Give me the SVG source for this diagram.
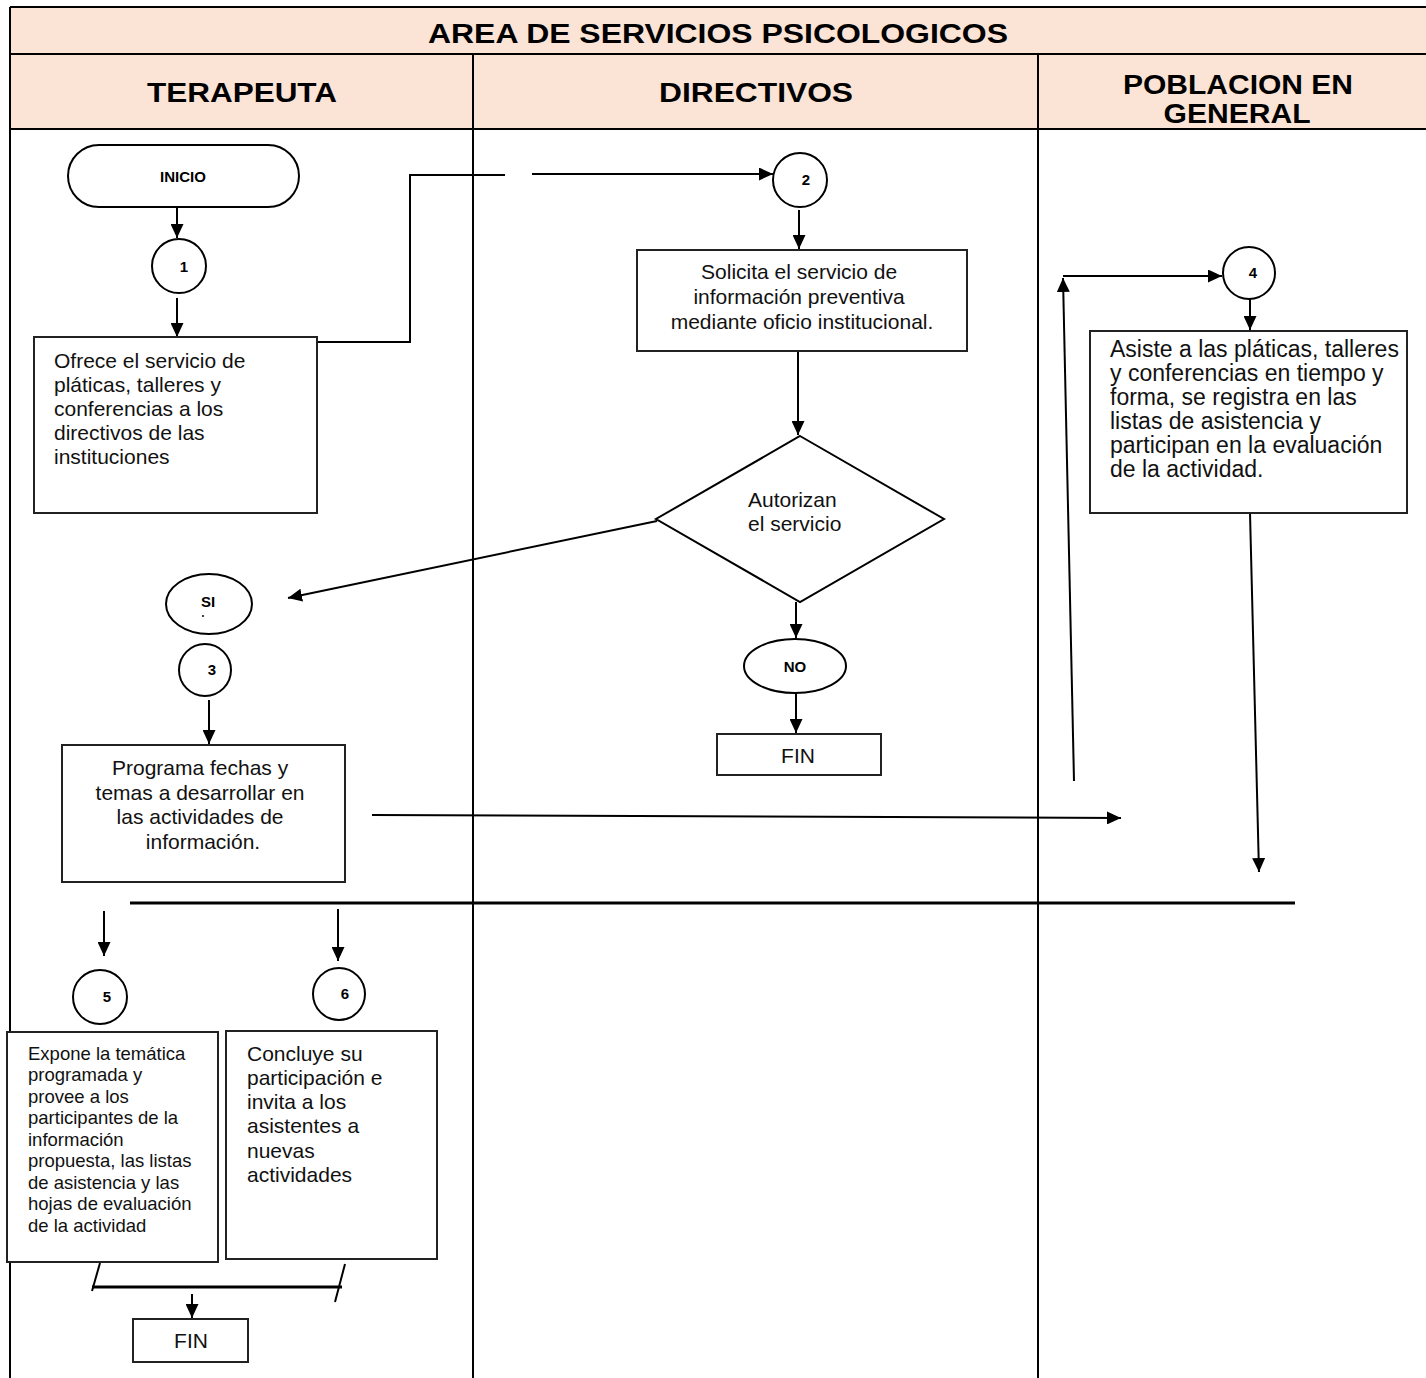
<svg xmlns="http://www.w3.org/2000/svg" width="1426" height="1378" viewBox="0 0 1426 1378">
  <defs>
    <marker id="arrow" markerUnits="userSpaceOnUse" markerWidth="14" markerHeight="13" refX="14" refY="6.5" orient="auto">
      <path d="M0,0 L14,6.5 L0,13 z" fill="#000"/>
    </marker>
  </defs>
  <style>
    .grid { stroke: #000; stroke-width: 2; fill: none; }
    .head { fill: #fbe4d5; }
    .htext { font-family: "Liberation Sans", Arial, sans-serif; font-weight: bold; font-size: 27px; fill: #000; text-anchor: middle; }
    .box { fill: #fff; stroke: #222; stroke-width: 2; }
    .term { fill: #fff; stroke: #000; stroke-width: 2; }
    .txt { font-family: "Liberation Sans", Arial, sans-serif; font-size: 21px; fill: #111; }
    .small { font-size: 18.5px; }
    .large { font-size: 23px; }
    .mid { text-anchor: middle; }
    .num { font-family: "Liberation Sans", Arial, sans-serif; font-weight: bold; font-size: 15px; fill: #000; text-anchor: middle; }
    .conn { stroke: #000; stroke-width: 2; fill: none; }
    .arr { marker-end: url(#arrow); }
    .bar { stroke: #000; stroke-width: 3; fill: none; }
  </style>

  <!-- swimlane table -->
  <g id="lanes">
    <rect class="head" x="10" y="7" width="1416" height="122"/>
    <line class="grid" x1="10" y1="7" x2="1426" y2="7"/>
    <line class="grid" x1="10" y1="54" x2="1426" y2="54"/>
    <line class="grid" x1="10" y1="129" x2="1426" y2="129"/>
    <line class="grid" x1="10" y1="7" x2="10" y2="1378"/>
    <line class="grid" x1="473" y1="54" x2="473" y2="1378"/>
    <line class="grid" x1="1038" y1="54" x2="1038" y2="1378"/>
    <text class="htext" x="718" y="43" textLength="580" lengthAdjust="spacingAndGlyphs">AREA DE SERVICIOS PSICOLOGICOS</text>
    <text class="htext" x="242" y="102" textLength="190" lengthAdjust="spacingAndGlyphs">TERAPEUTA</text>
    <text class="htext" x="756" y="102" textLength="194" lengthAdjust="spacingAndGlyphs">DIRECTIVOS</text>
    <text class="htext" x="1238" y="94" textLength="230" lengthAdjust="spacingAndGlyphs">POBLACION EN</text>
    <text class="htext" x="1237" y="123" textLength="147" lengthAdjust="spacingAndGlyphs">GENERAL</text>
  </g>

  <!-- connectors -->
  <g id="connectors">
    <line class="conn arr" x1="177" y1="207" x2="177" y2="238"/>
    <line class="conn arr" x1="177" y1="298" x2="177" y2="337"/>
    <polyline class="conn" points="317,342 410,342 410,175 505,175"/>
    <line class="conn arr" x1="532" y1="174" x2="773" y2="174"/>
    <line class="conn arr" x1="799" y1="210" x2="799" y2="249"/>
    <line class="conn arr" x1="798" y1="352" x2="798" y2="435"/>
    <line class="conn arr" x1="657" y1="521" x2="288" y2="598"/>
    <line class="conn arr" x1="796" y1="602" x2="796" y2="638"/>
    <line class="conn arr" x1="796" y1="693" x2="796" y2="733"/>
    <line class="conn arr" x1="209" y1="700" x2="209" y2="744"/>
    <line class="conn arr" x1="372" y1="815" x2="1121" y2="818"/>
    <line class="conn arr" x1="1074" y1="781" x2="1063" y2="278"/>
    <line class="conn arr" x1="1063" y1="276" x2="1222" y2="276"/>
    <line class="conn arr" x1="1250" y1="299" x2="1250" y2="330"/>
    <line class="conn arr" x1="1250" y1="513" x2="1259" y2="872"/>
    <line class="bar" x1="130" y1="903" x2="1295" y2="903"/>
    <line class="conn arr" x1="104" y1="911" x2="104" y2="956"/>
    <line class="conn arr" x1="338" y1="909" x2="338" y2="961"/>
    <line class="bar" x1="92" y1="1287" x2="342" y2="1287"/>
    <line class="conn" x1="100" y1="1263" x2="92" y2="1291"/>
    <line class="conn" x1="345" y1="1264" x2="335" y2="1302"/>
    <line class="conn arr" x1="192" y1="1294" x2="192" y2="1318"/>
  </g>

  <!-- terapeuta lane -->
  <g id="inicio">
    <rect class="term" x="68" y="145" width="231" height="62" rx="31" ry="31"/>
    <text class="num" x="183" y="182">INICIO</text>
  </g>
  <g id="c1">
    <circle class="term" cx="179" cy="266" r="27"/>
    <text class="num" x="184" y="272">1</text>
  </g>
  <g id="ofrece">
    <rect class="box" x="34" y="337" width="283" height="176"/>
    <text class="txt">
      <tspan x="54" y="368">Ofrece el servicio de</tspan>
      <tspan x="54" y="392">pláticas, talleres y</tspan>
      <tspan x="54" y="416">conferencias a los</tspan>
      <tspan x="54" y="440">directivos de las</tspan>
      <tspan x="54" y="464">instituciones</tspan>
    </text>
  </g>
  <g id="si">
    <ellipse class="term" cx="209" cy="604" rx="43" ry="30"/>
    <text class="num" x="208" y="607" font-size="13">SI</text>
    <circle cx="203" cy="616" r="1" fill="#000"/>
  </g>
  <g id="c3">
    <circle class="term" cx="205" cy="670" r="26"/>
    <text class="num" x="212" y="675">3</text>
  </g>
  <g id="programa">
    <rect class="box" x="62" y="745" width="283" height="137"/>
    <text class="txt mid">
      <tspan x="203" y="775">Programa fechas y</tspan>
      <tspan x="203" y="800">temas a desarrollar en</tspan>
      <tspan x="203" y="824">las actividades de</tspan>
      <tspan x="203" y="849">información.</tspan>
    </text>
  </g>
  <g id="c5">
    <circle class="term" cx="100" cy="997" r="27"/>
    <text class="num" x="107" y="1002">5</text>
  </g>
  <g id="c6">
    <circle class="term" cx="339" cy="994" r="26"/>
    <text class="num" x="345" y="999">6</text>
  </g>
  <g id="expone">
    <rect class="box" x="7" y="1032" width="211" height="230"/>
    <text class="txt small">
      <tspan x="28" y="1060">Expone la temática</tspan>
      <tspan x="28" y="1081">programada y</tspan>
      <tspan x="28" y="1103">provee a los</tspan>
      <tspan x="28" y="1124">participantes de la</tspan>
      <tspan x="28" y="1146">información</tspan>
      <tspan x="28" y="1167">propuesta, las listas</tspan>
      <tspan x="28" y="1189">de asistencia y las</tspan>
      <tspan x="28" y="1210">hojas de evaluación</tspan>
      <tspan x="28" y="1232">de la actividad</tspan>
    </text>
  </g>
  <g id="concluye">
    <rect class="box" x="226" y="1031" width="211" height="228"/>
    <text class="txt">
      <tspan x="247" y="1061">Concluye su</tspan>
      <tspan x="247" y="1085">participación e</tspan>
      <tspan x="247" y="1109">invita a los</tspan>
      <tspan x="247" y="1133">asistentes a</tspan>
      <tspan x="247" y="1158">nuevas</tspan>
      <tspan x="247" y="1182">actividades</tspan>
    </text>
  </g>
  <g id="fin1">
    <rect class="box" x="133" y="1319" width="115" height="43"/>
    <text class="txt mid" x="191" y="1348">FIN</text>
  </g>

  <!-- directivos lane -->
  <g id="c2">
    <circle class="term" cx="800" cy="180" r="27"/>
    <text class="num" x="806" y="185">2</text>
  </g>
  <g id="solicita">
    <rect class="box" x="637" y="250" width="330" height="101"/>
    <text class="txt mid">
      <tspan x="802" y="279">Solicita el servicio de</tspan>
      <tspan x="802" y="304">información preventiva</tspan>
      <tspan x="802" y="329">mediante oficio institucional.</tspan>
    </text>
  </g>
  <g id="autorizan">
    <polygon class="term" points="800,436 944,519 800,602 656,519"/>
    <text class="txt">
      <tspan x="748" y="507">Autorizan</tspan>
      <tspan x="748" y="531">el servicio</tspan>
    </text>
  </g>
  <g id="no">
    <ellipse class="term" cx="795" cy="666" rx="51" ry="27"/>
    <text class="num" x="795" y="672">NO</text>
  </g>
  <g id="fin2">
    <rect class="box" x="717" y="734" width="164" height="41"/>
    <text class="txt mid" x="798" y="763">FIN</text>
  </g>

  <!-- poblacion lane -->
  <g id="c4">
    <circle class="term" cx="1249" cy="273" r="26"/>
    <text class="num" x="1253" y="278">4</text>
  </g>
  <g id="asiste">
    <rect class="box" x="1090" y="331" width="317" height="182"/>
    <text class="txt large">
      <tspan x="1110" y="357">Asiste a las pláticas, talleres</tspan>
      <tspan x="1110" y="381">y conferencias en tiempo y</tspan>
      <tspan x="1110" y="405">forma, se registra en las</tspan>
      <tspan x="1110" y="429">listas de asistencia y</tspan>
      <tspan x="1110" y="453">participan en la evaluación</tspan>
      <tspan x="1110" y="477">de la actividad.</tspan>
    </text>
  </g>
</svg>
